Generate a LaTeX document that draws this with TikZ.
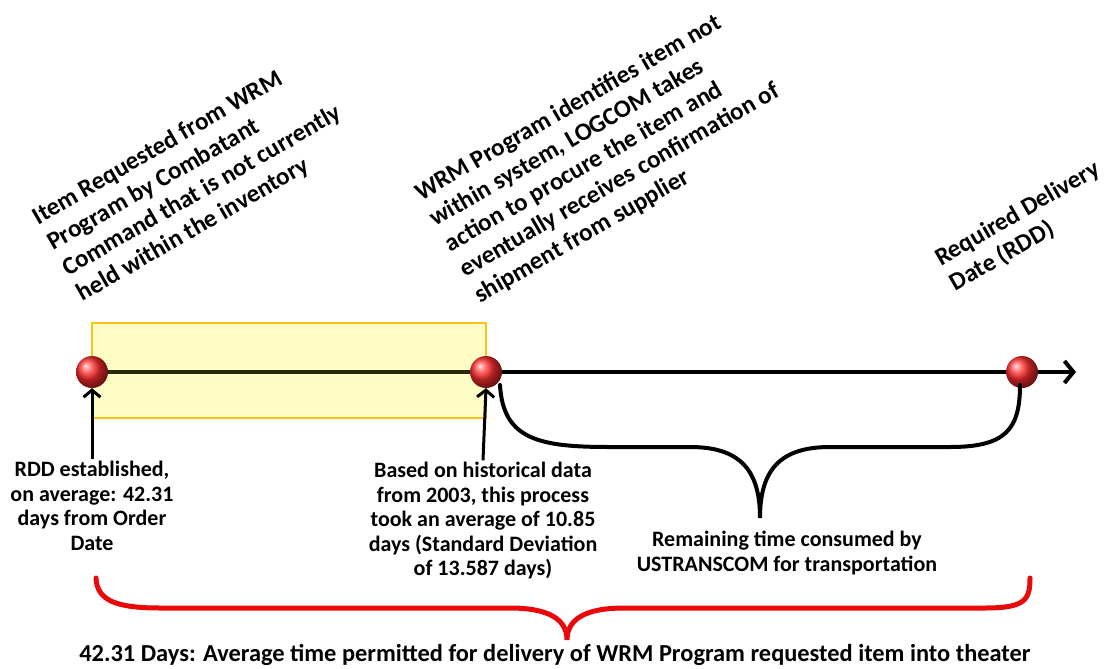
\documentclass[tikz,border=0pt]{standalone}
\usepackage{fontspec}
\setmainfont{Carlito}
\usetikzlibrary{arrows.meta,shadings}
\definecolor{boxfill}{RGB}{255,253,198}
\definecolor{boxedge}{RGB}{250,196,20}
\definecolor{bracered}{RGB}{232,10,10}
\definecolor{ballred}{RGB}{255,45,45}
\definecolor{lineink}{RGB}{40,40,10}
\begin{document}
\begin{tikzpicture}[x=1pt,y=-1pt,
  ball/.style={circle,minimum size=32pt,inner sep=0pt,shading=ball,ball color=ballred},
  lbl/.style={font=\bfseries\fontsize{22}{24.5}\selectfont,align=center,inner sep=2pt},
  rot/.style={font=\bfseries\fontsize{25}{29.5}\selectfont,align=left,rotate=30,inner sep=0pt,anchor=north west},
  axis/.style={line width=4pt},
  uparrow/.style={line width=3pt,-{Straight Barb[length=7pt,width=17pt,line width=3pt]}},
  brace/.style={line width=4pt,line cap=round},
  redbrace/.style={brace,draw=bracered,line width=5pt}]
\useasboundingbox (0,0) rectangle (1108,669);

% points on the time line
\coordinate (p1) at (92,372);
\coordinate (p2) at (486,372);
\coordinate (p3) at (1022,372);
\coordinate (tip) at (1076,372);

% procurement interval
\node[draw=boxedge,fill=boxfill,line width=1.6pt,minimum width=394pt,minimum height=95pt,inner sep=0pt] (box) at (289,370.5) {};

% time line
\draw[axis,-{Straight Barb[length=9pt,width=22pt,line width=4pt]}] (p1) -- (tip);
\draw[line width=4pt,lineink] (p1) -- (p2);

% milestones
\node[ball] (b1) at (p1) {};
\node[ball] (b2) at (p2) {};
\node[ball] (b3) at (p3) {};

% rotated milestone captions
\node[rot] (c1) at (29.5,210) {Item Requested from WRM\\Program by Combatant\\Command that is not currently\\held within the inventory};
\node[rot] (c2) at (412,186) {WRM Program identifies item not\\within system, LOGCOM takes\\action to procure the item and\\eventually receives confirmation of\\shipment from supplier};
\node[rot] (c3) at (932,251) {Required Delivery\\Date (RDD)};

% notes below the line
\node[lbl] (n1) at (92,506) {RDD established,\\on average: 42.31\\days from Order\\Date};
\node[lbl] (n2) at (483,521) {Based on historical data\\from 2003, this process\\took an average of 10.85\\days (Standard Deviation\\of 13.587 days)};
\node[lbl] (n3) at (787,553) {Remaining time consumed by\\USTRANSCOM for transportation};
\node[lbl,font=\bfseries\fontsize{24.4}{26}\selectfont] (n4) at (555,655) {42.31 Days: Average time permitted for delivery of WRM Program requested item into theater};

\draw[uparrow] (n1.north) -- (b1.south);
\draw[uparrow] (n2.north) -- (b2.south);

% transportation brace
\coordinate (k1) at (500,385);
\coordinate (k2) at (760,518);
\coordinate (k3) at (1020,385);
\draw[brace] (k1) .. controls (503,440) and (540,447) .. (610,447)
  -- (690,447) .. controls (740,447) and (760,470) .. (k2)
  .. controls (760,470) and (780,447) .. (830,447)
  -- (950,447) .. controls (1005,447) and (1020,430) .. (k3);

% overall brace
\coordinate (r1) at (96,578);
\coordinate (r2) at (567,640);
\coordinate (r3) at (1030,578);
\draw[redbrace] (r1) .. controls (97,600) and (115,608) .. (160,608)
  -- (510,608) .. controls (550,608) and (567,620) .. (r2)
  .. controls (567,620) and (584,608) .. (624,608)
  -- (985,608) .. controls (1025,608) and (1030,600) .. (r3);
\end{tikzpicture}
\end{document}
